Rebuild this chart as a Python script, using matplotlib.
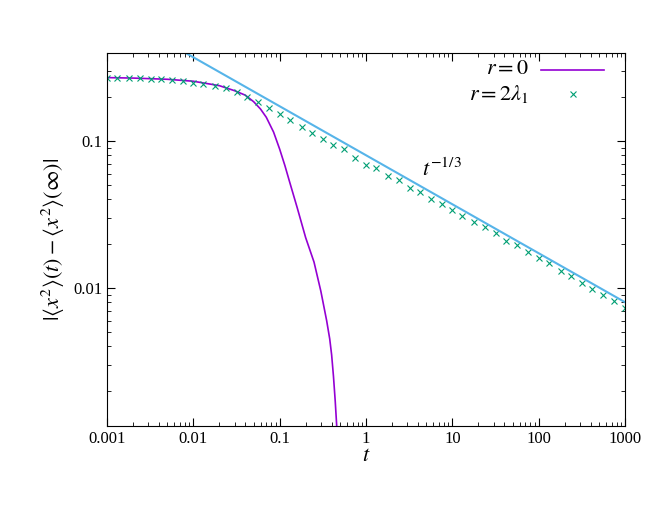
import matplotlib
matplotlib.use("Agg")
import matplotlib.pyplot as plt
import numpy as np

plt.rcParams['font.family'] = ['Liberation Serif', 'DejaVu Serif']
plt.rcParams['mathtext.fontset'] = 'stix'

t0 = [0.001,0.002,0.005,0.01,0.02,0.03,0.04,0.05,0.06,0.07,0.085,0.1,0.115,0.13,0.16,0.2,0.25,0.3,0.35,0.38,0.4,0.42,0.44,0.46]
y0 = [0.27,0.268,0.263,0.255,0.238,0.22,0.205,0.185,0.165,0.145,0.115,0.088,0.068,0.053,0.035,0.022,0.015,0.0095,0.006,0.0045,0.0035,0.0025,0.0017,0.0011]

t1 = [0.001,0.0013,0.0018,0.0024,0.0032,0.0042,0.0056,0.0075,0.01,0.013,0.018,0.024,0.032,0.042,0.056,0.075,
      0.1,0.13,0.18,0.24,0.32,0.42,0.56,0.75,1,1.3,1.8,2.4,3.2,4.2,5.6,7.5,10,13,18,24,32,42,56,75,
      100,130,180,240,320,420,560,750,1000]
y1 = [0.27,0.27,0.268,0.267,0.265,0.263,0.26,0.255,0.25,0.245,0.237,0.228,0.215,0.2,0.185,0.167,
      0.152,0.138,0.125,0.113,0.103,0.094,0.088,0.077,0.069,0.066,0.058,0.054,0.048,0.045,0.040,0.037,
      0.034,0.031,0.028,0.026,0.0235,0.021,0.0195,0.0175,0.016,0.0148,0.013,0.012,0.0108,0.0098,0.009,0.0081,0.0073]

C = 0.08
tl = [0.001, 1000]

fig = plt.figure(figsize=(6.64, 5.13), dpi=100)
ax = fig.add_axes([107/664, 1-426/513, 518/664, 373/513])
ax.set_xscale('log'); ax.set_yscale('log')
ax.plot(t0, y0, color='#9400d3', lw=1.2)
ax.plot(t1, y1, 'x', color='#009e73', ms=4, mew=0.8, ls='none')
ax.plot(tl, [C*t**(-1/3) for t in tl], color='#56b4e9', lw=1.5)
ax.set_xlim(0.001, 1000); ax.set_ylim(0.00115, 0.397)
ax.set_xticks([0.001,0.01,0.1,1,10,100,1000])
ax.set_xticklabels(['0.001','0.01','0.1','1','10','100','1000'])
ax.set_yticks([0.01,0.1]); ax.set_yticklabels(['0.01','0.1'])
ax.tick_params(which='both', direction='in', top=True, right=True, labelsize=12)
ax.tick_params(which='major', length=6); ax.tick_params(which='minor', length=3)
ax.set_xlabel('$t$', fontsize=16, labelpad=0)
ax.set_ylabel(r'$|\langle x^2\rangle(t)-\langle x^2\rangle(\infty)|$', fontsize=16)
ax.text(4.5, 0.058, '$t^{-1/3}$', fontsize=16)
ax.text(0.815, 0.955, '$r=0$', transform=ax.transAxes, ha='right', va='center', fontsize=16)
ax.text(0.815, 0.89, r'$r=2\lambda_1$', transform=ax.transAxes, ha='right', va='center', fontsize=16)
ax.plot([0.837, 0.96], [0.955, 0.955], transform=ax.transAxes, color='#9400d3', lw=1.2)
ax.plot([0.9], [0.89], 'x', transform=ax.transAxes, color='#009e73', ms=4, mew=0.8)
fig.savefig('out.png', dpi=100)
